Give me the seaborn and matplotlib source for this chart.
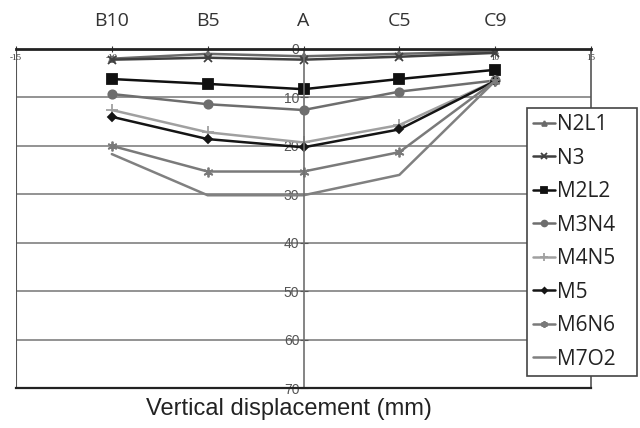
import matplotlib
matplotlib.use("Agg")
import matplotlib.pyplot as plt
import seaborn as sns
import pandas as pd

positions = [-10, -5, 0, 5, 10]
position_labels = ["B10", "B5", "A", "C5", "C9"]
series_names = ["N2L1", "N3", "M2L2", "M3N4", "M4N5", "M5", "M6N6", "M7O2"]
N2L1 = [2.0, 1.0, 1.5, 1.0, 0.5]
N3 = [2.2, 1.8, 2.2, 1.6, 0.8]
M2L2 = [6.2, 7.2, 8.3, 6.2, 4.3]
M3N4 = [9.3, 11.4, 12.6, 8.8, 6.5]
M4N5 = [12.6, 17.2, 19.3, 15.7, 6.6]
M5 = [14.0, 18.6, 20.3, 16.6, 6.6]
M6N6 = [20.0, 25.3, 25.3, 21.3, 6.6]
M7O2 = [21.7, 30.2, 30.2, 26.0, 6.6]
x_ticks = [-15, -10, -5, 0, 5, 10, 15]
y_ticks = [0, 10, 20, 30, 40, 50, 60, 70]

values = [N2L1, N3, M2L2, M3N4, M4N5, M5, M6N6, M7O2]
rows = []
for name, vals in zip(series_names, values):
    for p, v in zip(positions, vals):
        rows.append({"pos": p, "disp": v, "series": name})
df = pd.DataFrame(rows)

sns.set_style("white")
plt.rcParams["font.family"] = ["Liberation Sans", "DejaVu Sans"]

colors = {"N2L1": "#6a6a6a", "N3": "#404040", "M2L2": "#111111", "M3N4": "#6e6e6e",
          "M4N5": "#a0a0a0", "M5": "#151515", "M6N6": "#7a7a7a", "M7O2": "#808080"}
markers = {"N2L1": "^", "N3": "x", "M2L2": "s", "M3N4": "o", "M4N5": "+",
           "M5": "D", "M6N6": (6, 2, 0), "M7O2": ""}
msize = {"N2L1": 5, "N3": 6, "M2L2": 7, "M3N4": 6, "M4N5": 8, "M5": 4, "M6N6": 7, "M7O2": 1}

fig = plt.figure(figsize=(6.4, 4.28), dpi=100)
ax = fig.add_axes([16/640, 1-388/428, (591-16)/640, (388-49)/428])

for name in series_names:
    sub = df[df["series"] == name]
    sns.lineplot(data=sub, x="pos", y="disp", ax=ax, color=colors[name], lw=1.8,
                 marker=markers[name] if markers[name] else None,
                 markersize=msize[name], markeredgewidth=1.3,
                 markeredgecolor=colors[name], label=name, sort=False)

ax.set_xlim(-15, 15)
ax.set_ylim(70, 0)
ax.set_xticks(x_ticks)
ax.set_xticklabels([str(t) for t in x_ticks])
ax.set_yticks(y_ticks)
ax.set_yticklabels([str(t) for t in y_ticks])
ax.yaxis.grid(True, color="#808080", lw=1.2)
ax.xaxis.grid(False)

ax.spines["left"].set_position(("data", 0))
ax.spines["left"].set_color("#707070")
ax.spines["left"].set_linewidth(1.2)
for s in ["top", "right", "bottom"]:
    ax.spines[s].set_color("#555555")
    ax.spines[s].set_linewidth(1.2)
ax.spines["top"].set_color("#222222")
ax.spines["top"].set_linewidth(2)
ax.spines["bottom"].set_color("#222222")
ax.spines["bottom"].set_linewidth(1.6)
ax.axvline(-15, color="#555555", lw=1.5)

ax.tick_params(axis="x", top=True, labeltop=True, bottom=False, labelbottom=False,
               direction="inout", length=4, pad=-11, labelsize=6.5, colors="#333333")
for lbl in ax.get_xticklabels():
    lbl.set_family("Liberation Serif")
ax.tick_params(axis="y", left=True, direction="inout", length=6, labelsize=10,
               colors="#555555", pad=0)

sec = ax.secondary_xaxis("top")
sec.set_xticks(positions)
sec.set_xticklabels(position_labels)
sec.tick_params(length=0, pad=14, labelsize=14, colors="#333333")
sec.spines["top"].set_visible(False)
for lbl in sec.get_xticklabels():
    lbl.set_family("Open Sans")

ax.set_xlabel("")
ax.set_ylabel("")
fig.text(0.452, 0.044, "Vertical displacement (mm)", fontsize=17, ha="center",
         va="center", color="#222222")

leg = ax.legend(loc="upper left",
                bbox_to_anchor=(527/640, 1-375/428, 110/640, 267/428),
                bbox_transform=fig.transFigure, mode="expand", borderaxespad=0,
                frameon=True, fancybox=False, framealpha=1, edgecolor="#444444",
                labelspacing=0.6, handlelength=1.05, handletextpad=0.1,
                borderpad=0.3, markerscale=0.7,
                prop={"family": "Open Sans", "size": 15})
leg.get_frame().set_linewidth(1.2)
for t in leg.get_texts():
    t.set_color("#222222")

fig.savefig("out.png", dpi=100)
